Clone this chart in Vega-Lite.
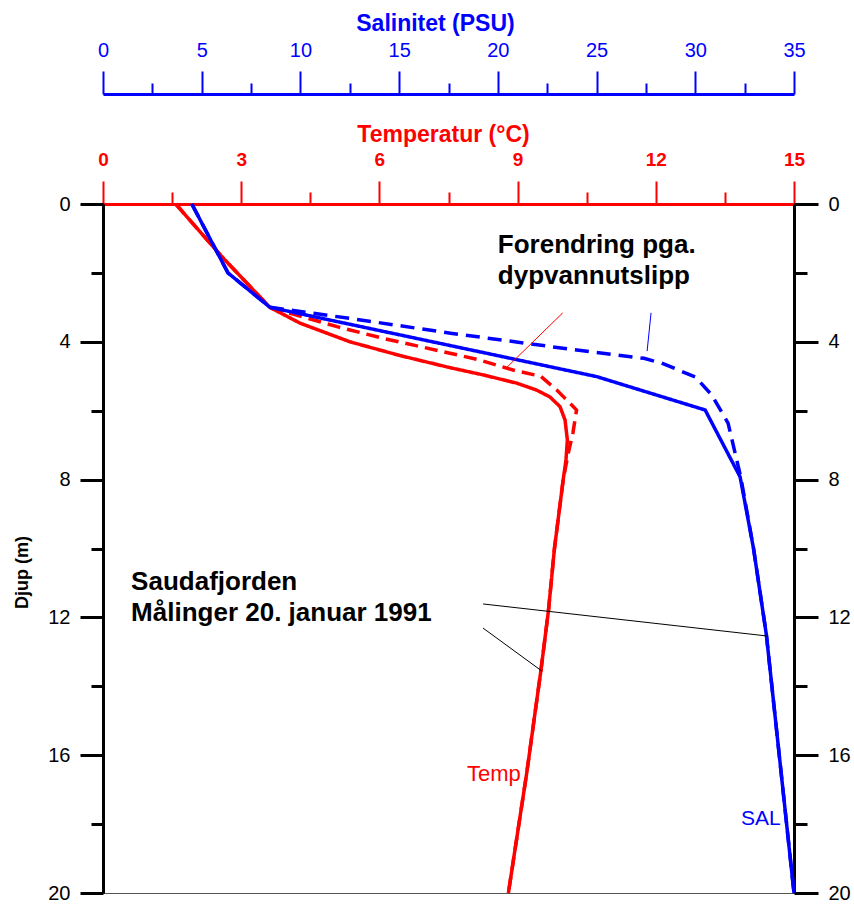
{
  "$schema": "https://vega.github.io/schema/vega-lite/v6.json",
  "width": 691,
  "height": 689,
  "autosize": {"type": "none"},
  "padding": {"left": 103, "top": 204, "right": 60, "bottom": 13},
  "background": "white",
  "view": {"stroke": "#555555", "strokeWidth": 1},
  "config": {
    "font": "Liberation Sans",
    "axis": {"labelFont": "Liberation Sans", "titleFont": "Liberation Sans", "grid": false, "labelOverlap": false, "labelFlush": false, "labelBound": false},
    "text": {"font": "Liberation Sans"}
  },
  "datasets": {
    "temperatur": [
      {"serie": "Målt", "depth": 0, "temp": 1.58},
      {"serie": "Målt", "depth": 1.5, "temp": 2.56},
      {"serie": "Målt", "depth": 3, "temp": 3.62},
      {"serie": "Målt", "depth": 3.46, "temp": 4.28},
      {"serie": "Målt", "depth": 4, "temp": 5.36},
      {"serie": "Målt", "depth": 4.4, "temp": 6.45},
      {"serie": "Målt", "depth": 4.75, "temp": 7.53},
      {"serie": "Målt", "depth": 4.96, "temp": 8.25},
      {"serie": "Målt", "depth": 5.2, "temp": 8.98},
      {"serie": "Målt", "depth": 5.4, "temp": 9.41},
      {"serie": "Målt", "depth": 5.6, "temp": 9.7},
      {"serie": "Målt", "depth": 5.88, "temp": 9.92},
      {"serie": "Målt", "depth": 6.27, "temp": 10.03},
      {"serie": "Målt", "depth": 6.85, "temp": 10.08},
      {"serie": "Målt", "depth": 7.43, "temp": 10.05},
      {"serie": "Målt", "depth": 8, "temp": 9.99},
      {"serie": "Målt", "depth": 10, "temp": 9.8},
      {"serie": "Målt", "depth": 11.8, "temp": 9.67},
      {"serie": "Målt", "depth": 13.5, "temp": 9.51},
      {"serie": "Målt", "depth": 16.5, "temp": 9.2},
      {"serie": "Målt", "depth": 20, "temp": 8.8},
      {"serie": "Endret", "depth": 0, "temp": 1.58},
      {"serie": "Endret", "depth": 1.5, "temp": 2.56},
      {"serie": "Endret", "depth": 3, "temp": 3.62},
      {"serie": "Endret", "depth": 3.56, "temp": 5.08},
      {"serie": "Endret", "depth": 3.9, "temp": 6.08},
      {"serie": "Endret", "depth": 4.33, "temp": 7.53},
      {"serie": "Endret", "depth": 4.53, "temp": 8.18},
      {"serie": "Endret", "depth": 4.82, "temp": 8.9},
      {"serie": "Endret", "depth": 5.0, "temp": 9.5},
      {"serie": "Endret", "depth": 5.4, "temp": 9.85},
      {"serie": "Endret", "depth": 5.98, "temp": 10.28},
      {"serie": "Endret", "depth": 6.65, "temp": 10.2},
      {"serie": "Endret", "depth": 7.23, "temp": 10.1},
      {"serie": "Endret", "depth": 8, "temp": 9.99},
      {"serie": "Endret", "depth": 10, "temp": 9.8},
      {"serie": "Endret", "depth": 11.8, "temp": 9.67},
      {"serie": "Endret", "depth": 13.5, "temp": 9.51},
      {"serie": "Endret", "depth": 16.5, "temp": 9.2},
      {"serie": "Endret", "depth": 20, "temp": 8.8}
    ],
    "salinitet": [
      {"serie": "Målt", "depth": 0, "sal": 4.5},
      {"serie": "Målt", "depth": 2, "sal": 6.33},
      {"serie": "Målt", "depth": 3, "sal": 8.46},
      {"serie": "Målt", "depth": 5.01, "sal": 25.0},
      {"serie": "Målt", "depth": 5.98, "sal": 30.5},
      {"serie": "Målt", "depth": 7.92, "sal": 32.27},
      {"serie": "Målt", "depth": 10, "sal": 32.95},
      {"serie": "Målt", "depth": 12.5, "sal": 33.6},
      {"serie": "Målt", "depth": 20, "sal": 35},
      {"serie": "Endret", "depth": 0, "sal": 4.5},
      {"serie": "Endret", "depth": 2, "sal": 6.33},
      {"serie": "Endret", "depth": 3, "sal": 8.46},
      {"serie": "Endret", "depth": 3.32, "sal": 12.5},
      {"serie": "Endret", "depth": 3.75, "sal": 17.6},
      {"serie": "Endret", "depth": 4.24, "sal": 24.0},
      {"serie": "Endret", "depth": 4.48, "sal": 27.4},
      {"serie": "Endret", "depth": 4.62, "sal": 28.3},
      {"serie": "Endret", "depth": 5.02, "sal": 30.0},
      {"serie": "Endret", "depth": 5.54, "sal": 30.83},
      {"serie": "Endret", "depth": 6.36, "sal": 31.66},
      {"serie": "Endret", "depth": 7.92, "sal": 32.3},
      {"serie": "Endret", "depth": 10, "sal": 32.95},
      {"serie": "Endret", "depth": 12.5, "sal": 33.6},
      {"serie": "Endret", "depth": 20, "sal": 35}
    ],
    "tempLinjer": [
      {"farge": "rød", "temp": 9.98, "depth": 3.16, "temp2": 8.73, "depth2": 4.79},
      {"farge": "svart", "temp": 8.25, "depth": 12.31, "temp2": 9.53, "depth2": 13.56}
    ],
    "salLinjer": [
      {"farge": "blå", "sal": 27.76, "depth": 3.16, "sal2": 27.56, "depth2": 4.27},
      {"farge": "svart", "sal": 19.25, "depth": 11.61, "sal2": 33.64, "depth2": 12.54}
    ],
    "tekster": [
      {"tekst": ["Forendring pga.", "dypvannutslipp"], "temp": 8.57, "depth": 1.42},
      {"tekst": ["Saudafjorden", "Målinger 20. januar 1991"], "temp": 0.61, "depth": 11.2}
    ],
    "tempEtikett": [{"tekst": "Temp", "temp": 7.9, "depth": 16.74}],
    "salEtikett": [{"tekst": "SAL", "sal": 32.32, "depth": 18.03}]
  },
  "layer": [
    {
      "data": {"name": "temperatur"},
      "mark": {"type": "line", "strokeWidth": 3.5, "color": "#ff0000"},
      "encoding": {
        "x": {"field": "temp", "type": "quantitative", "scale": {"domain": [0, 15], "nice": false, "zero": false},
          "axis": {
            "orient": "top", "title": "Temperatur (°C)",
            "values": [0, 1.5, 3, 4.5, 6, 7.5, 9, 10.5, 12, 13.5, 15],
            "labelExpr": "datum.value % 3 === 0 ? datum.label : ''",
            "tickSize": {"condition": {"test": "datum.value % 3 === 0", "value": 23}, "value": 12},
            "domainColor": "#ff0000", "domainWidth": 3, "tickColor": "#ff0000", "tickWidth": 2,
            "labelColor": "#ff0000", "labelFontWeight": "bold", "labelFontSize": 19, "labelPadding": 16, "labelBaseline": "alphabetic",
            "titleColor": "#ff0000", "titleFontSize": 23, "titleFontWeight": "bold", "titleY": -63, "titleX": 340, "titleBaseline": "alphabetic"
          }},
        "y": {"field": "depth", "type": "quantitative", "scale": {"domain": [0, 20], "reverse": true, "nice": false, "zero": false},
          "axis": {
            "orient": "left", "title": "Djup (m)",
            "values": [0, 2, 4, 6, 8, 10, 12, 14, 16, 18, 20],
            "labelExpr": "datum.value % 4 === 0 ? datum.label : ''",
            "tickSize": {"condition": {"test": "datum.value % 4 === 0", "value": 23}, "value": 12},
            "domainColor": "#000000", "domainWidth": 3, "tickColor": "#000000", "tickWidth": 3,
            "labelColor": "#000000", "labelFontSize": 20, "labelPadding": 10,
            "titleColor": "#000000", "titleFontSize": 18, "titleFontWeight": "bold", "titleX": -76, "titleY": 368, "titleBaseline": "alphabetic"
          }},
        "strokeDash": {"field": "serie", "type": "nominal", "scale": {"domain": ["Målt", "Endret"], "range": [[1, 0], [13, 7]]}, "legend": null},
        "order": {"field": "depth", "type": "quantitative"}
      }
    },
    {
      "data": {"name": "salinitet"},
      "mark": {"type": "line", "strokeWidth": 3.5, "color": "#0000ff"},
      "encoding": {
        "x": {"field": "sal", "type": "quantitative", "scale": {"domain": [0, 35], "nice": false, "zero": false},
          "axis": {
            "orient": "top", "offset": 110, "title": "Salinitet (PSU)",
            "values": [0, 2.5, 5, 7.5, 10, 12.5, 15, 17.5, 20, 22.5, 25, 27.5, 30, 32.5, 35],
            "labelExpr": "datum.value % 5 === 0 ? datum.label : ''",
            "tickSize": {"condition": {"test": "datum.value % 5 === 0", "value": 23}, "value": 11},
            "domainColor": "#0000ff", "domainWidth": 3, "tickColor": "#0000ff", "tickWidth": 2,
            "labelColor": "#0000ff", "labelFontSize": 20, "labelPadding": 15, "labelBaseline": "alphabetic",
            "titleColor": "#0000ff", "titleFontSize": 23, "titleFontWeight": "bold", "titleY": -64, "titleX": 332, "titleBaseline": "alphabetic"
          }},
        "y": {"field": "depth", "type": "quantitative", "scale": {"domain": [0, 20], "reverse": true, "nice": false, "zero": false},
          "axis": {
            "orient": "right", "title": null,
            "values": [0, 2, 4, 6, 8, 10, 12, 14, 16, 18, 20],
            "labelExpr": "datum.value % 4 === 0 ? datum.label : ''",
            "tickSize": {"condition": {"test": "datum.value % 4 === 0", "value": 24}, "value": 13},
            "domainColor": "#000000", "domainWidth": 3, "tickColor": "#000000", "tickWidth": 3,
            "labelColor": "#000000", "labelFontSize": 20, "labelPadding": 10
          }},
        "strokeDash": {"field": "serie", "type": "nominal", "scale": {"domain": ["Målt", "Endret"], "range": [[1, 0], [14, 8]]}, "legend": null},
        "order": {"field": "depth", "type": "quantitative"}
      }
    },
    {
      "data": {"name": "tempLinjer"},
      "mark": {"type": "rule", "strokeWidth": 1},
      "encoding": {
        "x": {"field": "temp", "type": "quantitative", "scale": {"domain": [0, 15], "nice": false, "zero": false}, "axis": null},
        "x2": {"field": "temp2"},
        "y": {"field": "depth", "type": "quantitative", "scale": {"domain": [0, 20], "reverse": true, "nice": false, "zero": false}, "axis": null},
        "y2": {"field": "depth2"},
        "color": {"field": "farge", "type": "nominal", "scale": {"domain": ["rød", "svart"], "range": ["#ff0000", "#000000"]}, "legend": null}
      }
    },
    {
      "data": {"name": "salLinjer"},
      "mark": {"type": "rule", "strokeWidth": 1},
      "encoding": {
        "x": {"field": "sal", "type": "quantitative", "scale": {"domain": [0, 35], "nice": false, "zero": false}, "axis": null},
        "x2": {"field": "sal2"},
        "y": {"field": "depth", "type": "quantitative", "scale": {"domain": [0, 20], "reverse": true, "nice": false, "zero": false}, "axis": null},
        "y2": {"field": "depth2"},
        "color": {"field": "farge", "type": "nominal", "scale": {"domain": ["blå", "svart"], "range": ["#0000ff", "#000000"]}, "legend": null}
      }
    },
    {
      "data": {"name": "tekster"},
      "mark": {"type": "text", "align": "left", "baseline": "alphabetic", "fontSize": 26, "fontWeight": "bold", "color": "#000000", "lineHeight": 31},
      "encoding": {
        "x": {"field": "temp", "type": "quantitative", "scale": {"domain": [0, 15], "nice": false, "zero": false}, "axis": null},
        "y": {"field": "depth", "type": "quantitative", "scale": {"domain": [0, 20], "reverse": true, "nice": false, "zero": false}, "axis": null},
        "text": {"field": "tekst"}
      }
    },
    {
      "data": {"name": "tempEtikett"},
      "mark": {"type": "text", "align": "left", "baseline": "alphabetic", "fontSize": 22, "color": "#ff0000"},
      "encoding": {
        "x": {"field": "temp", "type": "quantitative", "scale": {"domain": [0, 15], "nice": false, "zero": false}, "axis": null},
        "y": {"field": "depth", "type": "quantitative", "scale": {"domain": [0, 20], "reverse": true, "nice": false, "zero": false}, "axis": null},
        "text": {"field": "tekst"}
      }
    },
    {
      "data": {"name": "salEtikett"},
      "mark": {"type": "text", "align": "left", "baseline": "alphabetic", "fontSize": 21, "color": "#0000ff"},
      "encoding": {
        "x": {"field": "sal", "type": "quantitative", "scale": {"domain": [0, 35], "nice": false, "zero": false}, "axis": null},
        "y": {"field": "depth", "type": "quantitative", "scale": {"domain": [0, 20], "reverse": true, "nice": false, "zero": false}, "axis": null},
        "text": {"field": "tekst"}
      }
    }
  ],
  "resolve": {
    "scale": {"x": "independent", "y": "independent", "color": "independent", "strokeDash": "independent"},
    "axis": {"x": "independent", "y": "independent"}
  }
}
